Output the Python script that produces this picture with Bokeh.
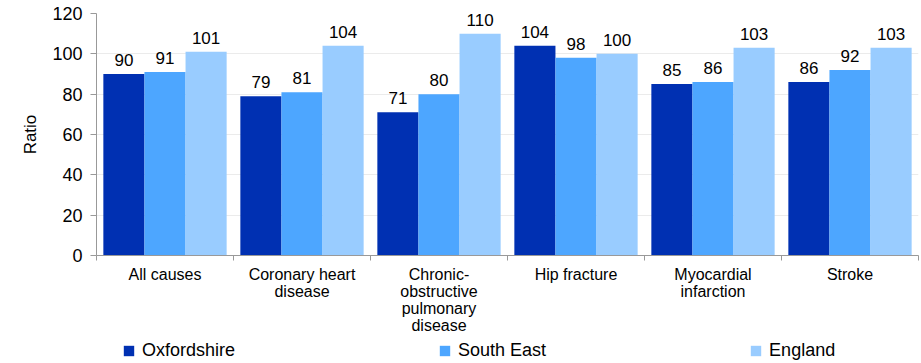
from bokeh.plotting import figure
from bokeh.layouts import column
from bokeh.models import (ColumnDataSource, Range1d, FixedTicker, LabelSet, Legend, LegendItem)
from bokeh.core.properties import value
from bokeh.transform import dodge
from bokeh.embed import file_html
from bokeh.resources import INLINE

causes = ["All causes", "Coronary heart\ndisease", "Chronic-\nobstructive\npulmonary\ndisease",
          "Hip fracture", "Myocardial\ninfarction", "Stroke"]
oxfordshire = [90, 79, 71, 104, 85, 86]
south_east = [91, 81, 80, 98, 86, 92]
england = [101, 104, 110, 100, 103, 103]
series_names = ["Oxfordshire", "South East", "England"]
colors = ["#0030B2", "#4DA6FF", "#99CCFF"]
y_ticks = [0, 20, 40, 60, 80, 100, 120]

FONT = "Liberation Sans"

xc = [i + 0.5 for i in range(len(causes))]
src = ColumnDataSource(dict(
    xc=xc, Oxfordshire=oxfordshire, SE=south_east, England=england,
    lo=[str(v) for v in oxfordshire], ls=[str(v) for v in south_east], le=[str(v) for v in england],
))

p = figure(width=921, height=336, output_backend="svg", toolbar_location=None,
           x_range=Range1d(0, len(causes)), y_range=Range1d(0, 120),
           min_border_left=96, min_border_right=3, min_border_top=13, min_border_bottom=79)
p.outline_line_color = None
p.xgrid.grid_line_color = None
p.ygrid.grid_line_color = "#EBEBEB"
p.ygrid.grid_line_width = 1

cols = ["Oxfordshire", "SE", "England"]
lab_cols = ["lo", "ls", "le"]
offsets = [-0.3, 0.0, 0.3]
for col, lc, off, c in zip(cols, lab_cols, offsets, colors):
    p.vbar(x=dodge("xc", off, range=p.x_range), top=col, width=0.3, source=src,
           fill_color=c, line_color=None)
    lbl = LabelSet(x=dodge("xc", off, range=p.x_range), y=col, text=lc, source=src,
                   text_align="center", text_baseline="bottom", y_offset=8,
                   text_font=value(FONT), text_font_size="17px", text_color="#000000")
    p.add_layout(lbl)

# axes
xa = p.xaxis[0]
xa.ticker = FixedTicker(ticks=xc, minor_ticks=list(range(len(causes) + 1)))
xa.major_label_overrides = {v: c for v, c in zip(xc, causes)}
xa.major_tick_line_color = None
xa.minor_tick_out = 5
xa.minor_tick_in = 0
xa.minor_tick_line_color = "#999999"
xa.axis_line_color = "#999999"
xa.major_label_text_font = FONT
xa.major_label_text_font_size = "16px"
xa.major_label_text_line_height = 1.0
xa.major_label_text_color = "#000000"
xa.major_label_standoff = 4

ya = p.yaxis[0]
ya.ticker = FixedTicker(ticks=y_ticks)
ya.minor_tick_line_color = None
ya.major_tick_in = 0
ya.major_tick_out = 6
ya.major_tick_line_color = "#999999"
ya.axis_line_color = "#999999"
ya.major_label_text_font = FONT
ya.major_label_text_font_size = "18px"
ya.major_label_text_color = "#000000"
ya.major_label_standoff = 8
ya.axis_label = "Ratio"
ya.axis_label_text_font = FONT
ya.axis_label_text_font_size = "17px"
ya.axis_label_text_font_style = "normal"
ya.axis_label_text_color = "#000000"
ya.axis_label_standoff = 9

# legend strip
q = figure(width=921, height=27, output_backend="svg", toolbar_location=None,
           x_range=Range1d(0, 1), y_range=Range1d(0, 1),
           min_border_left=96, min_border_right=3, min_border_top=0, min_border_bottom=0)
q.axis.visible = False
q.grid.visible = False
q.outline_line_color = None
rends = []
for col, c in zip(cols, colors):
    r = q.vbar(x="xc", top=col, width=0.3, source=src, fill_color=c, line_color=None, visible=False)
    rends.append(r)

legend = Legend(items=[LegendItem(label=n, renderers=[r]) for n, r in zip(series_names, rends)],
                orientation="horizontal", location=(26, 2),
                glyph_width=13, glyph_height=13, label_standoff=7, spacing=203,
                padding=0, margin=0, border_line_color=None, background_fill_alpha=0,
                label_text_font=FONT, label_text_font_size="18px", label_text_color="#000000",
                label_height=13)
q.add_layout(legend)

layout = column(p, q, spacing=0)
open("out.html", "w").write(file_html(layout, INLINE))
